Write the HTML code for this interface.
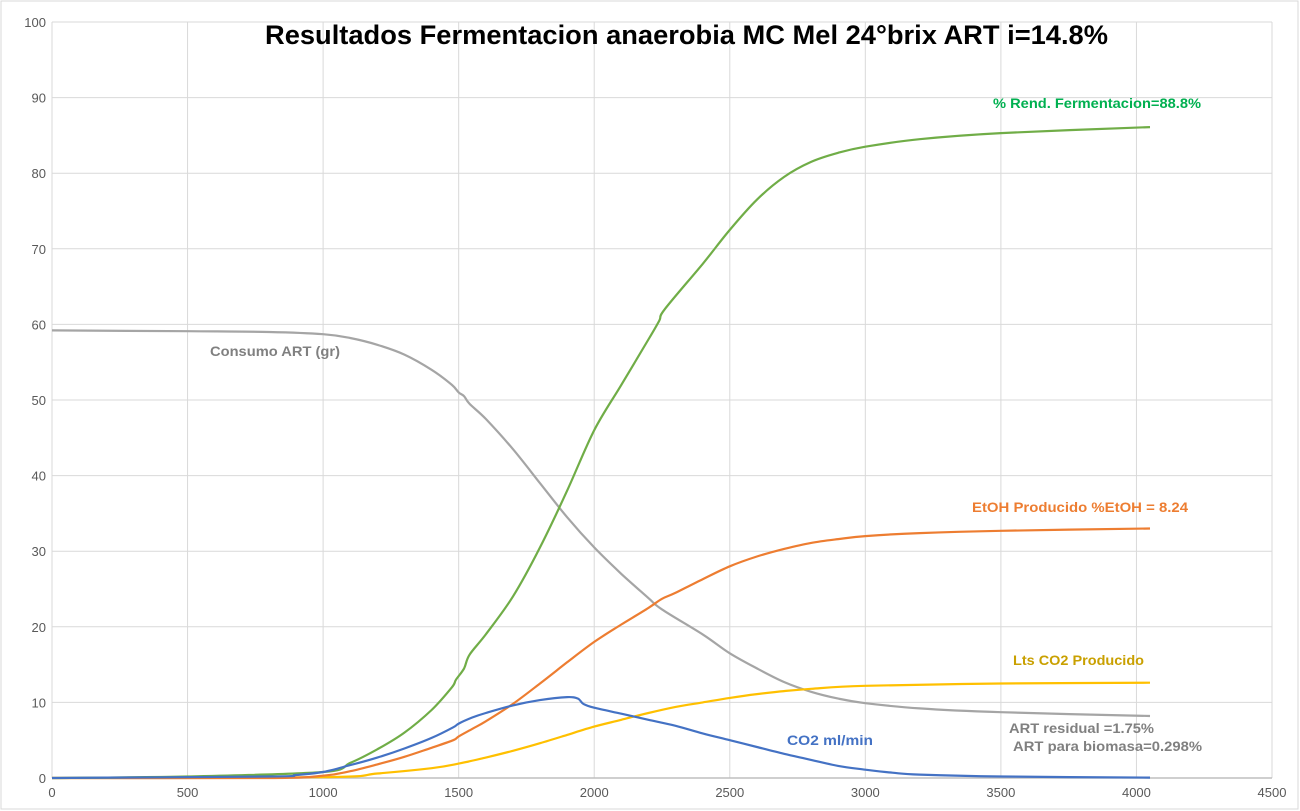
<!DOCTYPE html>
<html><head><meta charset="utf-8">
<style>
html,body{margin:0;padding:0;background:#fff;}
svg{display:block;font-family:"Liberation Sans",Calibri,sans-serif;}
</style></head>
<body>
<svg id="chart" width="1300" height="811" viewBox="0 0 1300 811">
<rect x="0" y="0" width="1300" height="811" fill="#fff"/>
<rect x="1" y="1" width="1297" height="808" fill="none" stroke="#d9d9d9"/>
<g id="grid"></g>
<g id="axes"></g>
<g id="series"></g>
<text x="265" y="44" textLength="843" lengthAdjust="spacingAndGlyphs" font-size="27" font-weight="bold" fill="#000">Resultados Fermentacion anaerobia MC Mel 24°brix ART i=14.8%</text>
<text x="993" y="108" textLength="208" lengthAdjust="spacingAndGlyphs" font-size="14" font-weight="bold" fill="#00b050">% Rend. Fermentacion=88.8%</text>
<text x="210" y="356" textLength="130" lengthAdjust="spacingAndGlyphs" font-size="14" font-weight="bold" fill="#808080">Consumo ART (gr)</text>
<text x="972" y="512" textLength="216" lengthAdjust="spacingAndGlyphs" font-size="14" font-weight="bold" fill="#ed7d31">EtOH Producido %EtOH = 8.24</text>
<text x="1013" y="665" textLength="131" lengthAdjust="spacingAndGlyphs" font-size="14" font-weight="bold" fill="#c9a000">Lts CO2 Producido</text>
<text x="1009" y="733" textLength="145" lengthAdjust="spacingAndGlyphs" font-size="14" font-weight="bold" fill="#808080">ART residual =1.75%</text>
<text x="1013" y="751" textLength="189" lengthAdjust="spacingAndGlyphs" font-size="14" font-weight="bold" fill="#808080">ART para biomasa=0.298%</text>
<text x="787" y="745" textLength="86" lengthAdjust="spacingAndGlyphs" font-size="14" font-weight="bold" fill="#4472c4">CO2 ml/min</text>
</svg>
<script>
const xTicks=[0,500,1000,1500,2000,2500,3000,3500,4000,4500];
const yTicks=[0,10,20,30,40,50,60,70,80,90,100];
const greenX=[0,500,1000,1100,1200,1300,1400,1475,1490,1520,1540,1600,1700,1800,1900,2000,2100,2200,2240,2260,2400,2500,2600,2700,2800,2900,3000,3200,3500,4050];
const greenY=[0,0.2,0.8,2,3.8,6,9,12,13,14.5,16.3,19,24,30.5,38,46,52,58,60.5,62,68,72.5,76.5,79.5,81.5,82.7,83.5,84.5,85.3,86.1];
const grayX=[0,500,800,1000,1100,1200,1300,1400,1475,1500,1520,1540,1600,1700,1800,1900,2000,2100,2200,2250,2400,2500,2600,2700,2800,2900,3000,3200,3500,4050];
const grayY=[59.2,59.1,59,58.7,58.2,57.3,56,54,52,51,50.5,49.5,47.5,43.5,39,34.5,30.5,27,23.8,22.3,19,16.5,14.5,12.7,11.4,10.5,9.9,9.2,8.7,8.2];
const orangeX=[0,800,1000,1100,1200,1300,1400,1480,1500,1550,1600,1700,1800,1900,2000,2100,2200,2250,2300,2400,2500,2600,2700,2800,2900,3000,3200,3500,4050];
const orangeY=[0,0,0.3,0.9,1.8,2.8,4,5,5.5,6.5,7.5,9.8,12.5,15.3,18,20.3,22.5,23.7,24.5,26.3,28,29.3,30.3,31.1,31.6,32,32.4,32.7,33];
const yellowX=[0,1000,1200,1400,1500,1600,1700,1800,1900,2000,2100,2200,2300,2400,2500,2600,2700,2800,3000,3500,4050];
const yellowY=[0,0.1,0.6,1.3,1.9,2.7,3.6,4.6,5.7,6.8,7.7,8.6,9.4,10,10.6,11.1,11.5,11.8,12.2,12.5,12.6];
const blueX=[0,800,900,1000,1100,1200,1300,1400,1480,1500,1550,1600,1700,1800,1900,1940,1960,2000,2100,2200,2300,2400,2500,2600,2700,2800,2900,3000,3100,3200,3500,4050];
const blueY=[0,0.2,0.4,0.8,1.7,2.7,3.9,5.3,6.7,7.2,8,8.6,9.6,10.3,10.7,10.5,9.8,9.3,8.5,7.7,6.9,5.9,5,4.1,3.2,2.4,1.6,1.1,0.7,0.45,0.2,0.05];

const NS="http://www.w3.org/2000/svg";
const X0=52,X1=1272,Y0=778,Y1=22;
function sx(v){return X0+(v-0)/(4500-0)*(X1-X0);}
function sy(v){return Y0-(v-0)/(100-0)*(Y0-Y1);}
function mk(tag,attrs,parent){const e=document.createElementNS(NS,tag);for(const k in attrs)e.setAttribute(k,attrs[k]);parent.appendChild(e);return e;}
const grid=document.getElementById('grid'),axes=document.getElementById('axes'),series=document.getElementById('series');
xTicks.forEach(t=>{
  const l=mk('line',{x1:sx(t),x2:sx(t),y1:Y1,y2:Y0,stroke:'#d9d9d9','stroke-width':1},grid);
  
  
  const tx=mk('text',{x:sx(t),y:Y0+19,'text-anchor':'middle','font-size':13,fill:'#595959'},axes);
  tx.textContent=t;
  
  
});
yTicks.forEach(t=>{
  const l=mk('line',{x1:X0,x2:X1,y1:sy(t),y2:sy(t),stroke:'#d9d9d9','stroke-width':1},grid);
  
  
  const tx=mk('text',{x:X0-6,y:sy(t)+5,'text-anchor':'end','font-size':13,fill:'#595959'},axes);
  tx.textContent=t;
  
  
});
const xa=mk('line',{x1:X0,x2:X1,y1:Y0,y2:Y0,stroke:'#bfbfbf','stroke-width':1.5},axes);


function line(xs,ys,color,name){
  const P=xs.map((x,i)=>[sx(x),sy(ys[i])]);
  let d='M'+P[0][0].toFixed(1)+','+P[0][1].toFixed(1);
  for(let i=0;i<P.length-1;i++){
    const p0=P[i-1]||P[i],p1=P[i],p2=P[i+1],p3=P[i+2]||P[i+1];
    const c1=[p1[0]+(p2[0]-p0[0])/6,p1[1]+(p2[1]-p0[1])/6];
    const c2=[p2[0]-(p3[0]-p1[0])/6,p2[1]-(p3[1]-p1[1])/6];
    d+=' C'+c1.map(v=>v.toFixed(1)).join(',')+' '+c2.map(v=>v.toFixed(1)).join(',')+' '+p2.map(v=>v.toFixed(1)).join(',');
  }
  const p=mk('path',{d:d,fill:'none',stroke:color,'stroke-width':2.2,'stroke-linejoin':'round'},series);
  
  
}
line(grayX,grayY,'#a5a5a5','series-consumo-art');
line(yellowX,yellowY,'#ffc000','series-co2-producido');
line(orangeX,orangeY,'#ed7d31','series-etoh');
line(greenX,greenY,'#70ad47','series-rendimiento');
line(blueX,blueY,'#4472c4','series-co2-rate');
</script>
</body></html>
